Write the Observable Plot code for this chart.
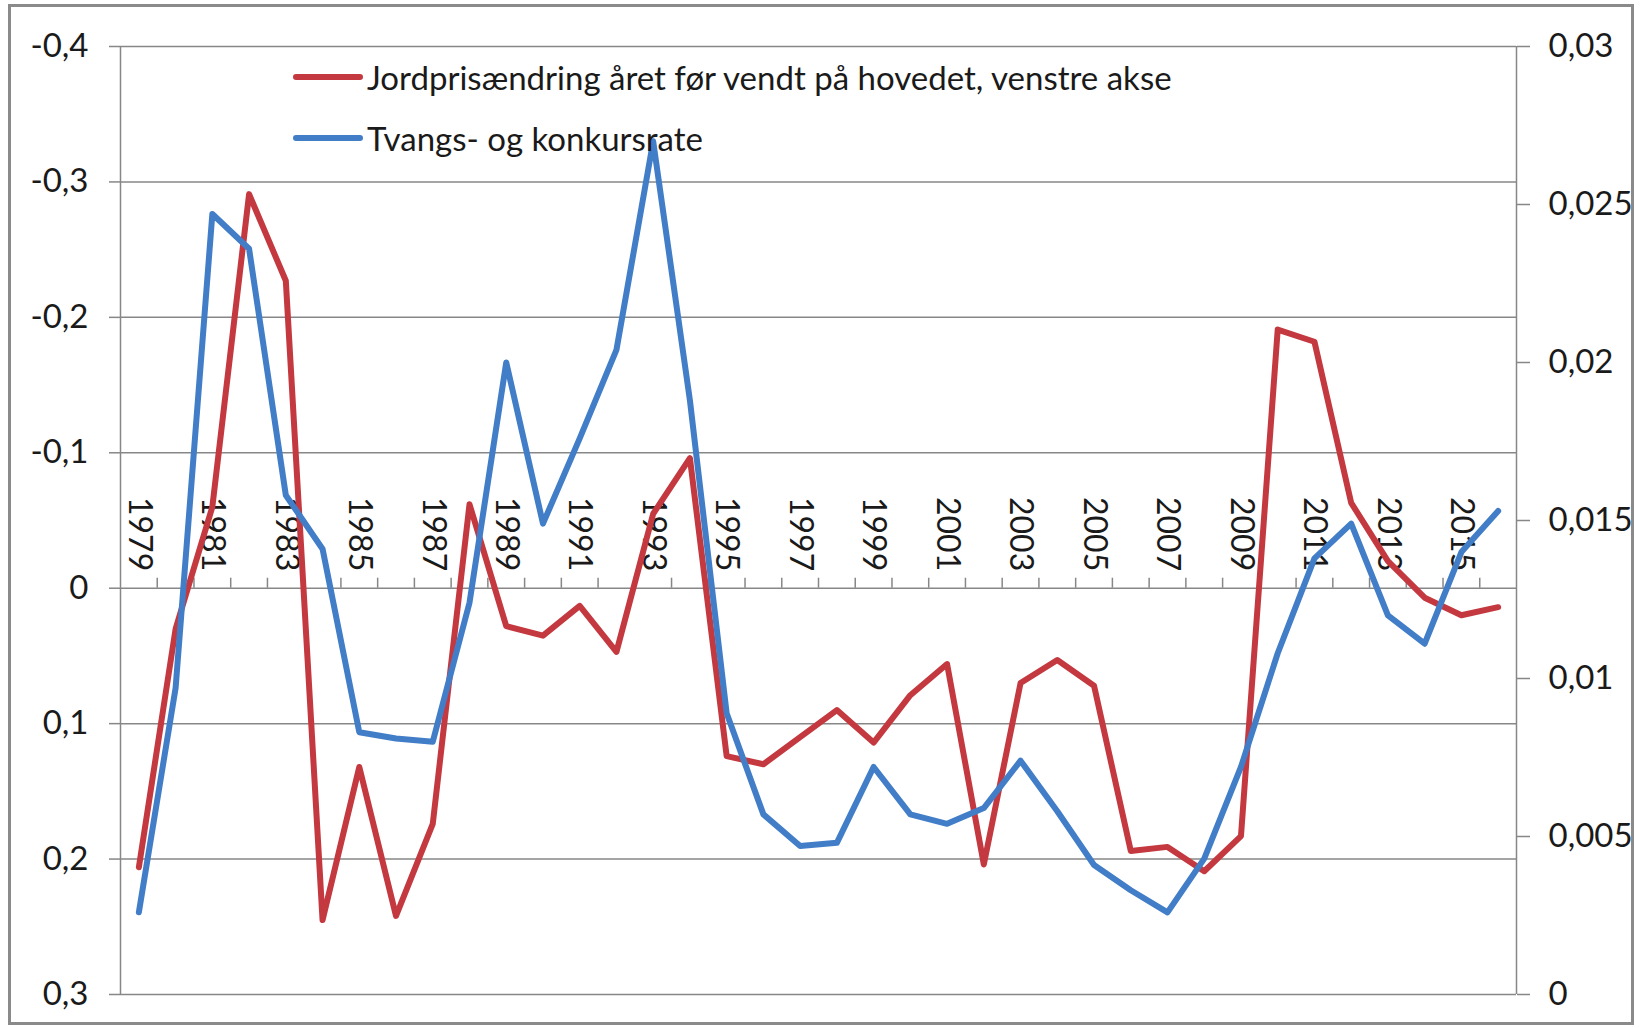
<!DOCTYPE html>
<html>
<head>
<meta charset="utf-8">
<script src="https://cdn.jsdelivr.net/npm/d3@7"></script>
<script src="https://cdn.jsdelivr.net/npm/@observablehq/plot@0.6"></script>
<style>
  html, body { margin: 0; padding: 0; background: #fff; }
  #wrap { position: relative; width: 1642px; height: 1028px; overflow: hidden; font-family: Lato, "Open Sans", sans-serif; }
  #wrap svg.plot { position: absolute; left: 0; top: 0; }
  #frame { position: absolute; left: 8px; top: 4px; width: 1626px; height: 1021px; border: 3px solid #8a8a8a; box-sizing: border-box; pointer-events: none; }
  .leg { position: absolute; left: 293px; height: 40px; display: flex; align-items: center; font-size: 33px; color: #1a1a1a; white-space: nowrap; }
  .leg .sw { width: 70px; height: 6px; margin-right: 4px; border-radius: 3px; }
</style>
</head>
<body>
<div id="wrap">
  <div id="frame"></div>
</div>
<script>
const years = [1979,1980,1981,1982,1983,1984,1985,1986,1987,1988,1989,1990,1991,1992,1993,1994,1995,1996,1997,1998,1999,2000,2001,2002,2003,2004,2005,2006,2007,2008,2009,2010,2011,2012,2013,2014,2015,2016];

// Jordprisændring året før vendt på hovedet (venstre akse)
const jordpris = [0.206,0.030,-0.060,-0.291,-0.227,0.245,0.132,0.242,0.174,-0.062,0.028,0.035,0.013,0.047,-0.055,-0.096,0.124,0.130,0.110,0.090,0.114,0.079,0.056,0.204,0.070,0.053,0.072,0.194,0.191,0.209,0.183,-0.191,-0.182,-0.063,-0.020,0.007,0.020,0.014];

// Tvangs- og konkursrate (høyre akse)
const konkurs = [0.0026,0.0097,0.0247,0.0236,0.0158,0.0141,0.0083,0.0081,0.0080,0.0124,0.0200,0.0149,0.0176,0.0204,0.0270,0.0188,0.0089,0.0057,0.0047,0.0048,0.0072,0.0057,0.0054,0.0059,0.0074,0.0058,0.0041,0.0033,0.0026,0.0043,0.0072,0.0108,0.0138,0.0149,0.0120,0.0111,0.0140,0.0153];

const leftTicks = [-0.4,-0.3,-0.2,-0.1,0,0.1,0.2,0.3];
const rightTicks = [0,0.005,0.01,0.015,0.02,0.025,0.03];
const labelYears = years.filter(y => y % 2 === 1);
const seriesNames = ["Jordprisændring året før vendt på hovedet, venstre akse", "Tvangs- og konkursrate"];
const colors = ["#C4393F", "#427DC8"];

const leftMin = leftTicks[0], leftMax = leftTicks[leftTicks.length - 1];
const rMin = rightTicks[0], rMax = rightTicks[rightTicks.length - 1];
const toLeft = r => leftMax - (r - rMin) / (rMax - rMin) * (leftMax - leftMin);
const fromLeft = v => rMin + (leftMax - v) / (leftMax - leftMin) * (rMax - rMin);
const comma = n => String(n).replace(".", ",");
const fmtLeft = v => comma(Math.round(v * 10) / 10);
const fmtRight = v => comma(Math.round(fromLeft(v) * 1000) / 1000);

const data = years.map((y, i) => ({year: y, jord: jordpris[i], konk: konkurs[i]}));
const x0 = years[0] - 0.5, x1 = years[years.length - 1] + 0.5;
const boundaries = years.slice(1).map(y => y - 0.5);
const grid = "#878787";

const chart = Plot.plot({
  width: 1642,
  height: 1028,
  marginLeft: 120,
  marginRight: 126,
  marginTop: 46,
  marginBottom: 34,
  x: {type: "linear", domain: [x0, x1], axis: null},
  y: {domain: [leftMin, leftMax], reverse: true},
  style: {fontFamily: "Lato, 'Open Sans', sans-serif", fontSize: "33px", color: "#1a1a1a", background: "transparent"},
  marks: [
    Plot.gridY(leftTicks, {stroke: grid, strokeOpacity: 1, strokeWidth: 1.5}),
    Plot.ruleX([x0, x1], {stroke: grid, strokeWidth: 1.5}),
    Plot.axisY(leftTicks, {anchor: "left", label: null, tickSize: 11, tickPadding: 21, tickFormat: fmtLeft, stroke: grid, strokeWidth: 1.5, fontSize: 33}),
    Plot.axisY(rightTicks.map(toLeft), {anchor: "right", label: null, tickSize: 13, tickPadding: 19, tickFormat: fmtRight, stroke: grid, strokeWidth: 1.5, fontSize: 33}),
    Plot.ruleX(boundaries, {x: d => d, y1: 0, y2: 0, insetTop: -10, stroke: grid, strokeWidth: 1.5}),
    Plot.text(labelYears, {x: d => d, y: 0, text: d => String(d), rotate: 90, textAnchor: "end", lineAnchor: "middle", dy: -17, fontSize: 32, fill: "#1a1a1a"}),
    Plot.line(data, {x: "year", y: "jord", stroke: colors[0], strokeWidth: 6}),
    Plot.line(data, {x: "year", y: d => toLeft(d.konk), stroke: colors[1], strokeWidth: 6})
  ]
});
chart.classList.add("plot");
const wrap = document.getElementById("wrap");
wrap.insertBefore(chart, wrap.firstChild);

const legendTops = [57, 118];
seriesNames.forEach((name, i) => {
  const row = document.createElement("div");
  row.className = "leg";
  row.style.top = legendTops[i] + "px";
  const sw = document.createElement("div");
  sw.className = "sw";
  sw.style.background = colors[i];
  const t = document.createElement("span");
  t.textContent = name;
  row.appendChild(sw);
  row.appendChild(t);
  wrap.appendChild(row);
});
</script>
</body>
</html>
